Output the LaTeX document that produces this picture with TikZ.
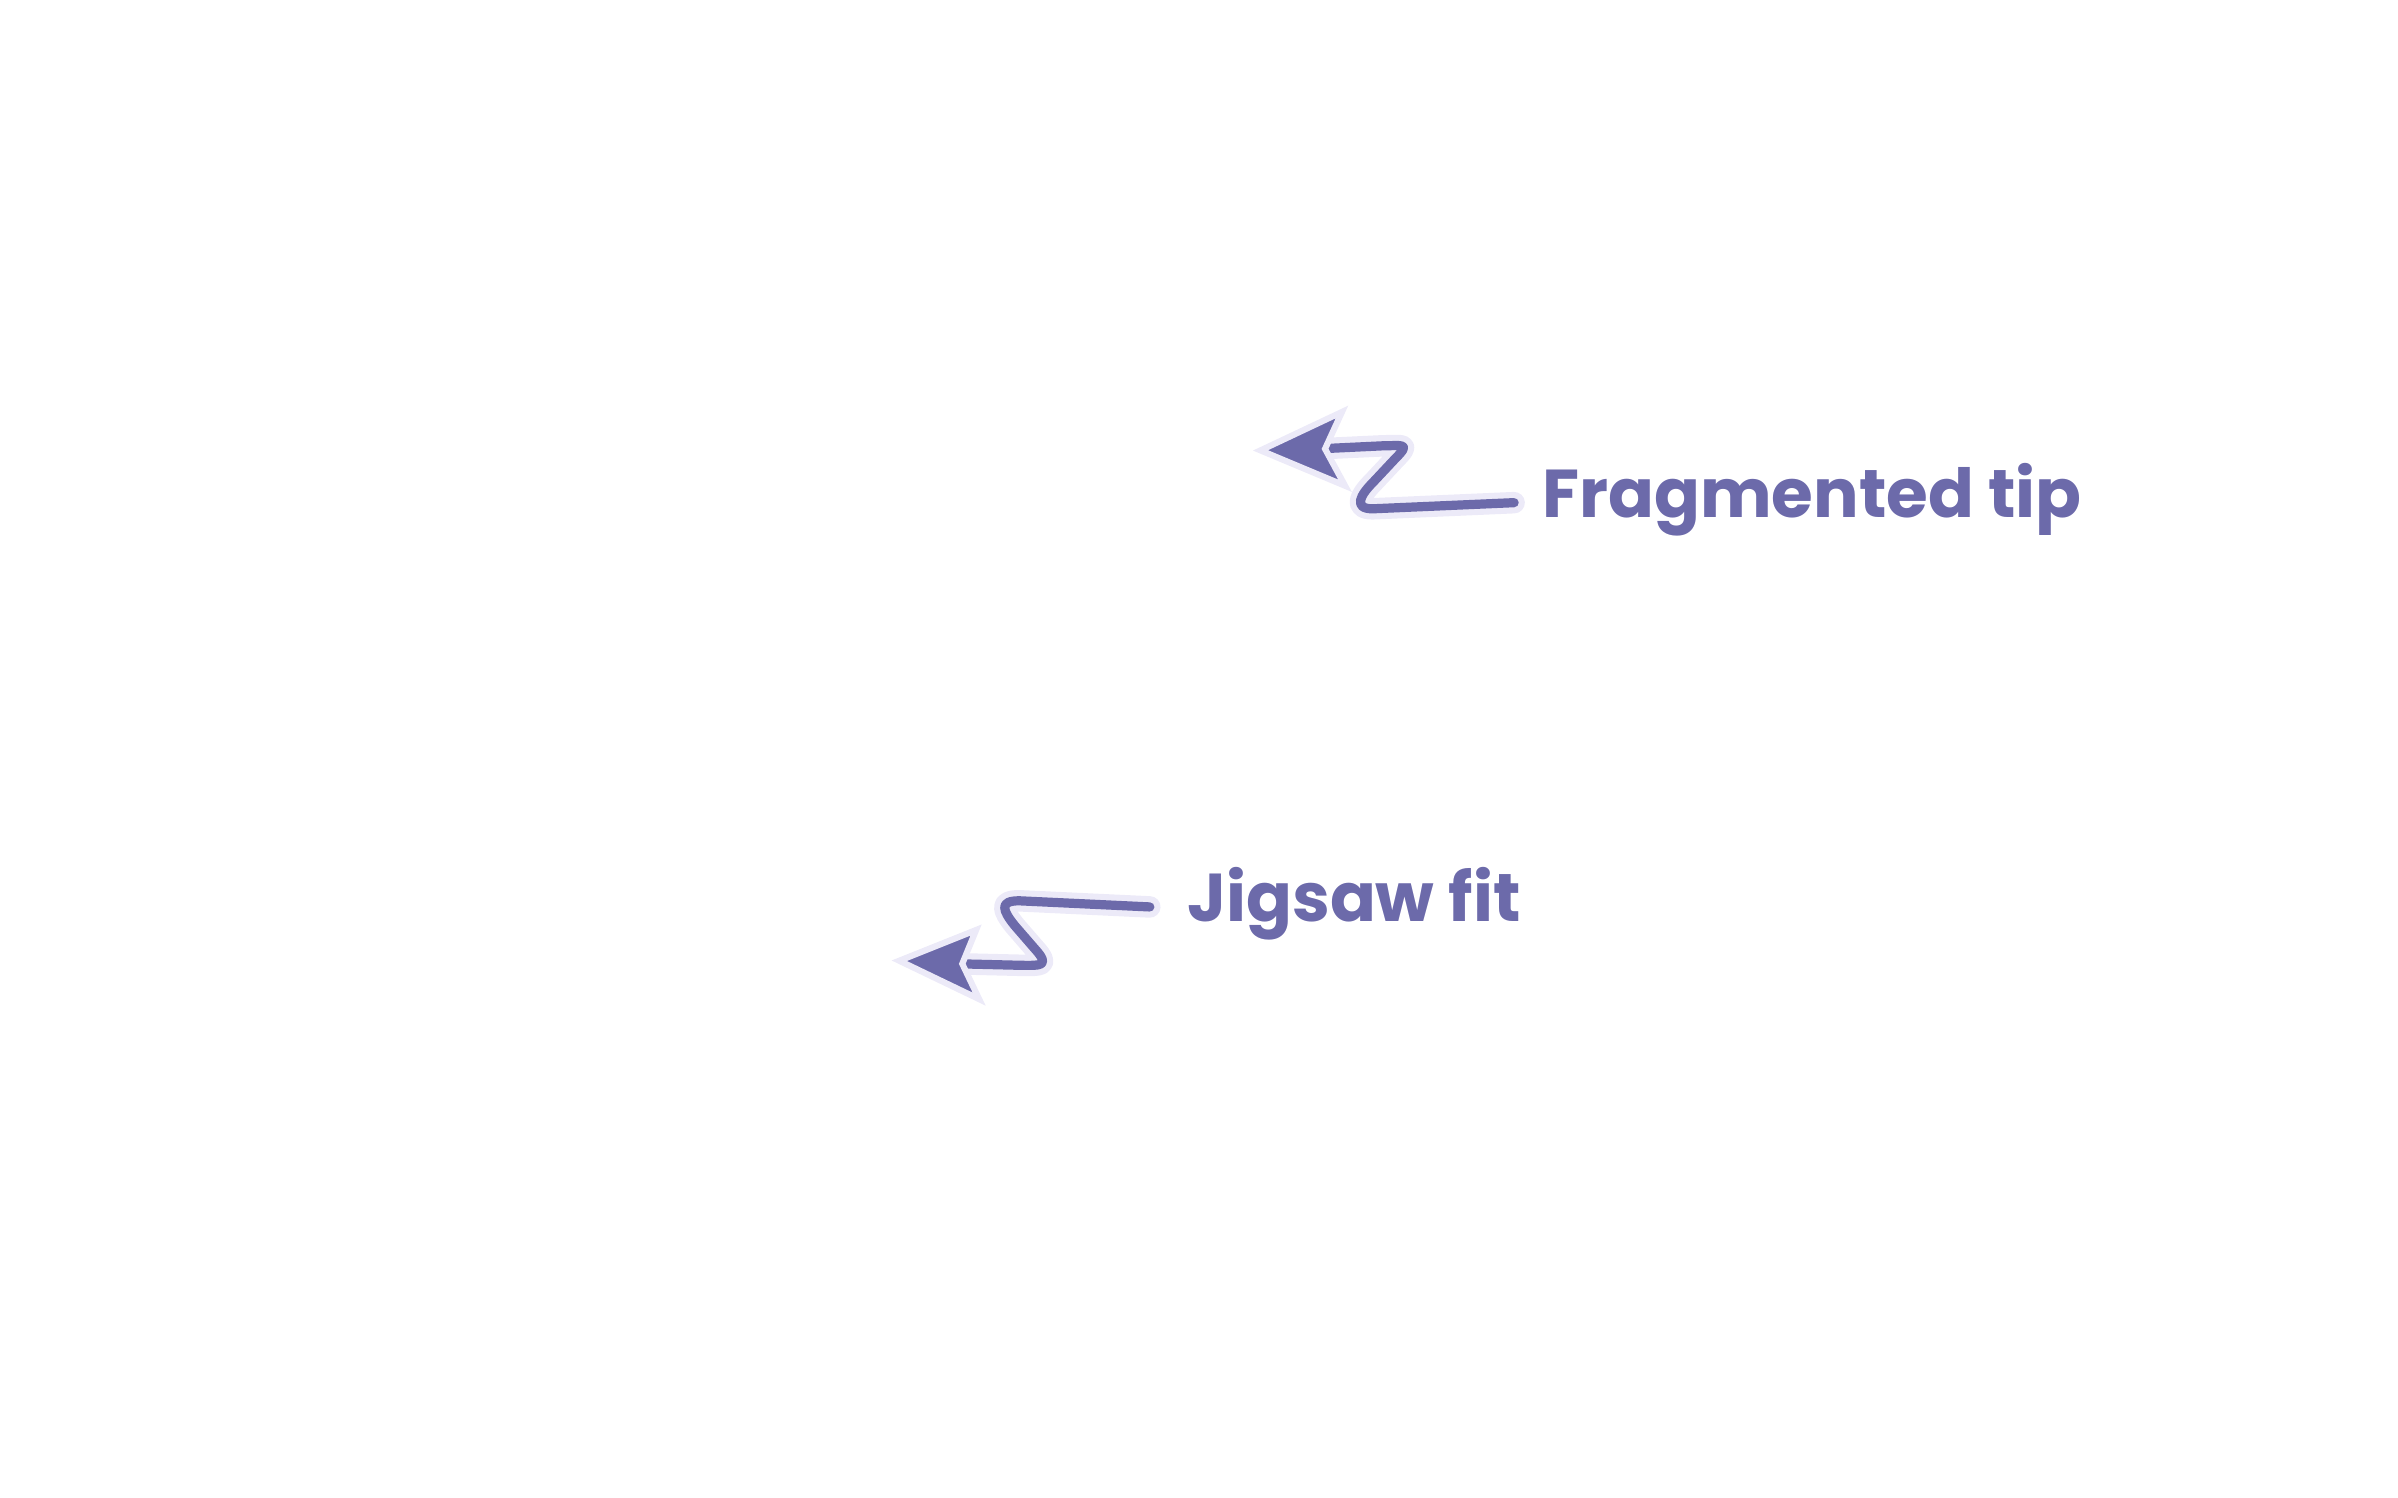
\documentclass[tikz,border=0pt]{standalone}
\usepackage{fontspec}
\setmainfont{Poppins}
\usepackage[outline]{contour}
\contourlength{1.6pt}
\usetikzlibrary{arrows.meta}
\definecolor{ink}{HTML}{6C6AAA}
\definecolor{halo}{HTML}{ECEAF8}

\tikzset{
    halo line/.style={draw=halo, line width=7pt, line cap=round, line join=round},
    ink line/.style={draw=ink, line width=3pt, line cap=round, line join=round},
    tip head/.style={fill=ink, draw=halo, line width=2pt, line join=miter},
    callout/.style={font=\bfseries\fontsize{22}{26}\selectfont, text=ink, inner sep=0pt, anchor=west}
}
\newcommand{\halotext}[1]{\contour{halo}{#1}}

\begin{document}
\begin{tikzpicture}[x=0.5pt, y=-0.5pt]
        \useasboundingbox (0,0) rectangle (1560,974);
        % labels
        \node[callout] (fraglabel) at (1003,325) {\halotext{Fragmented tip}};
        \node[callout] (jiglabel) at (772,588) {\halotext{Jigsaw fit}};
        % fragmented tip arrow
        \coordinate (fragend) at (985,327);
        \coordinate (fragtip) at (820,293);
        \foreach \sty in {halo line, ink line}
            \draw[\sty] (fragend) -- (893,331) .. controls (880,331) and (885,322) .. (893,314)
                -- (908,298) .. controls (918,288) and (912,290) .. (900,290) -- (858,292);
        \draw[tip head] (fragtip) -- (873,268) -- (862,292) -- (875,316) -- cycle;
        % jigsaw fit arrow
        \coordinate (jigend) at (748,590);
        \coordinate (jigtip) at (585,625);
        \foreach \sty in {halo line, ink line}
            \draw[\sty] (jigend) -- (663,586) .. controls (650,586) and (652,592) .. (660,602)
                -- (673,617) .. controls (684,629) and (676,628) .. (665,628) -- (624,627);
        \draw[tip head] (jigtip) -- (635,605) -- (626,627) -- (637,650) -- cycle;
\end{tikzpicture}
\end{document}
